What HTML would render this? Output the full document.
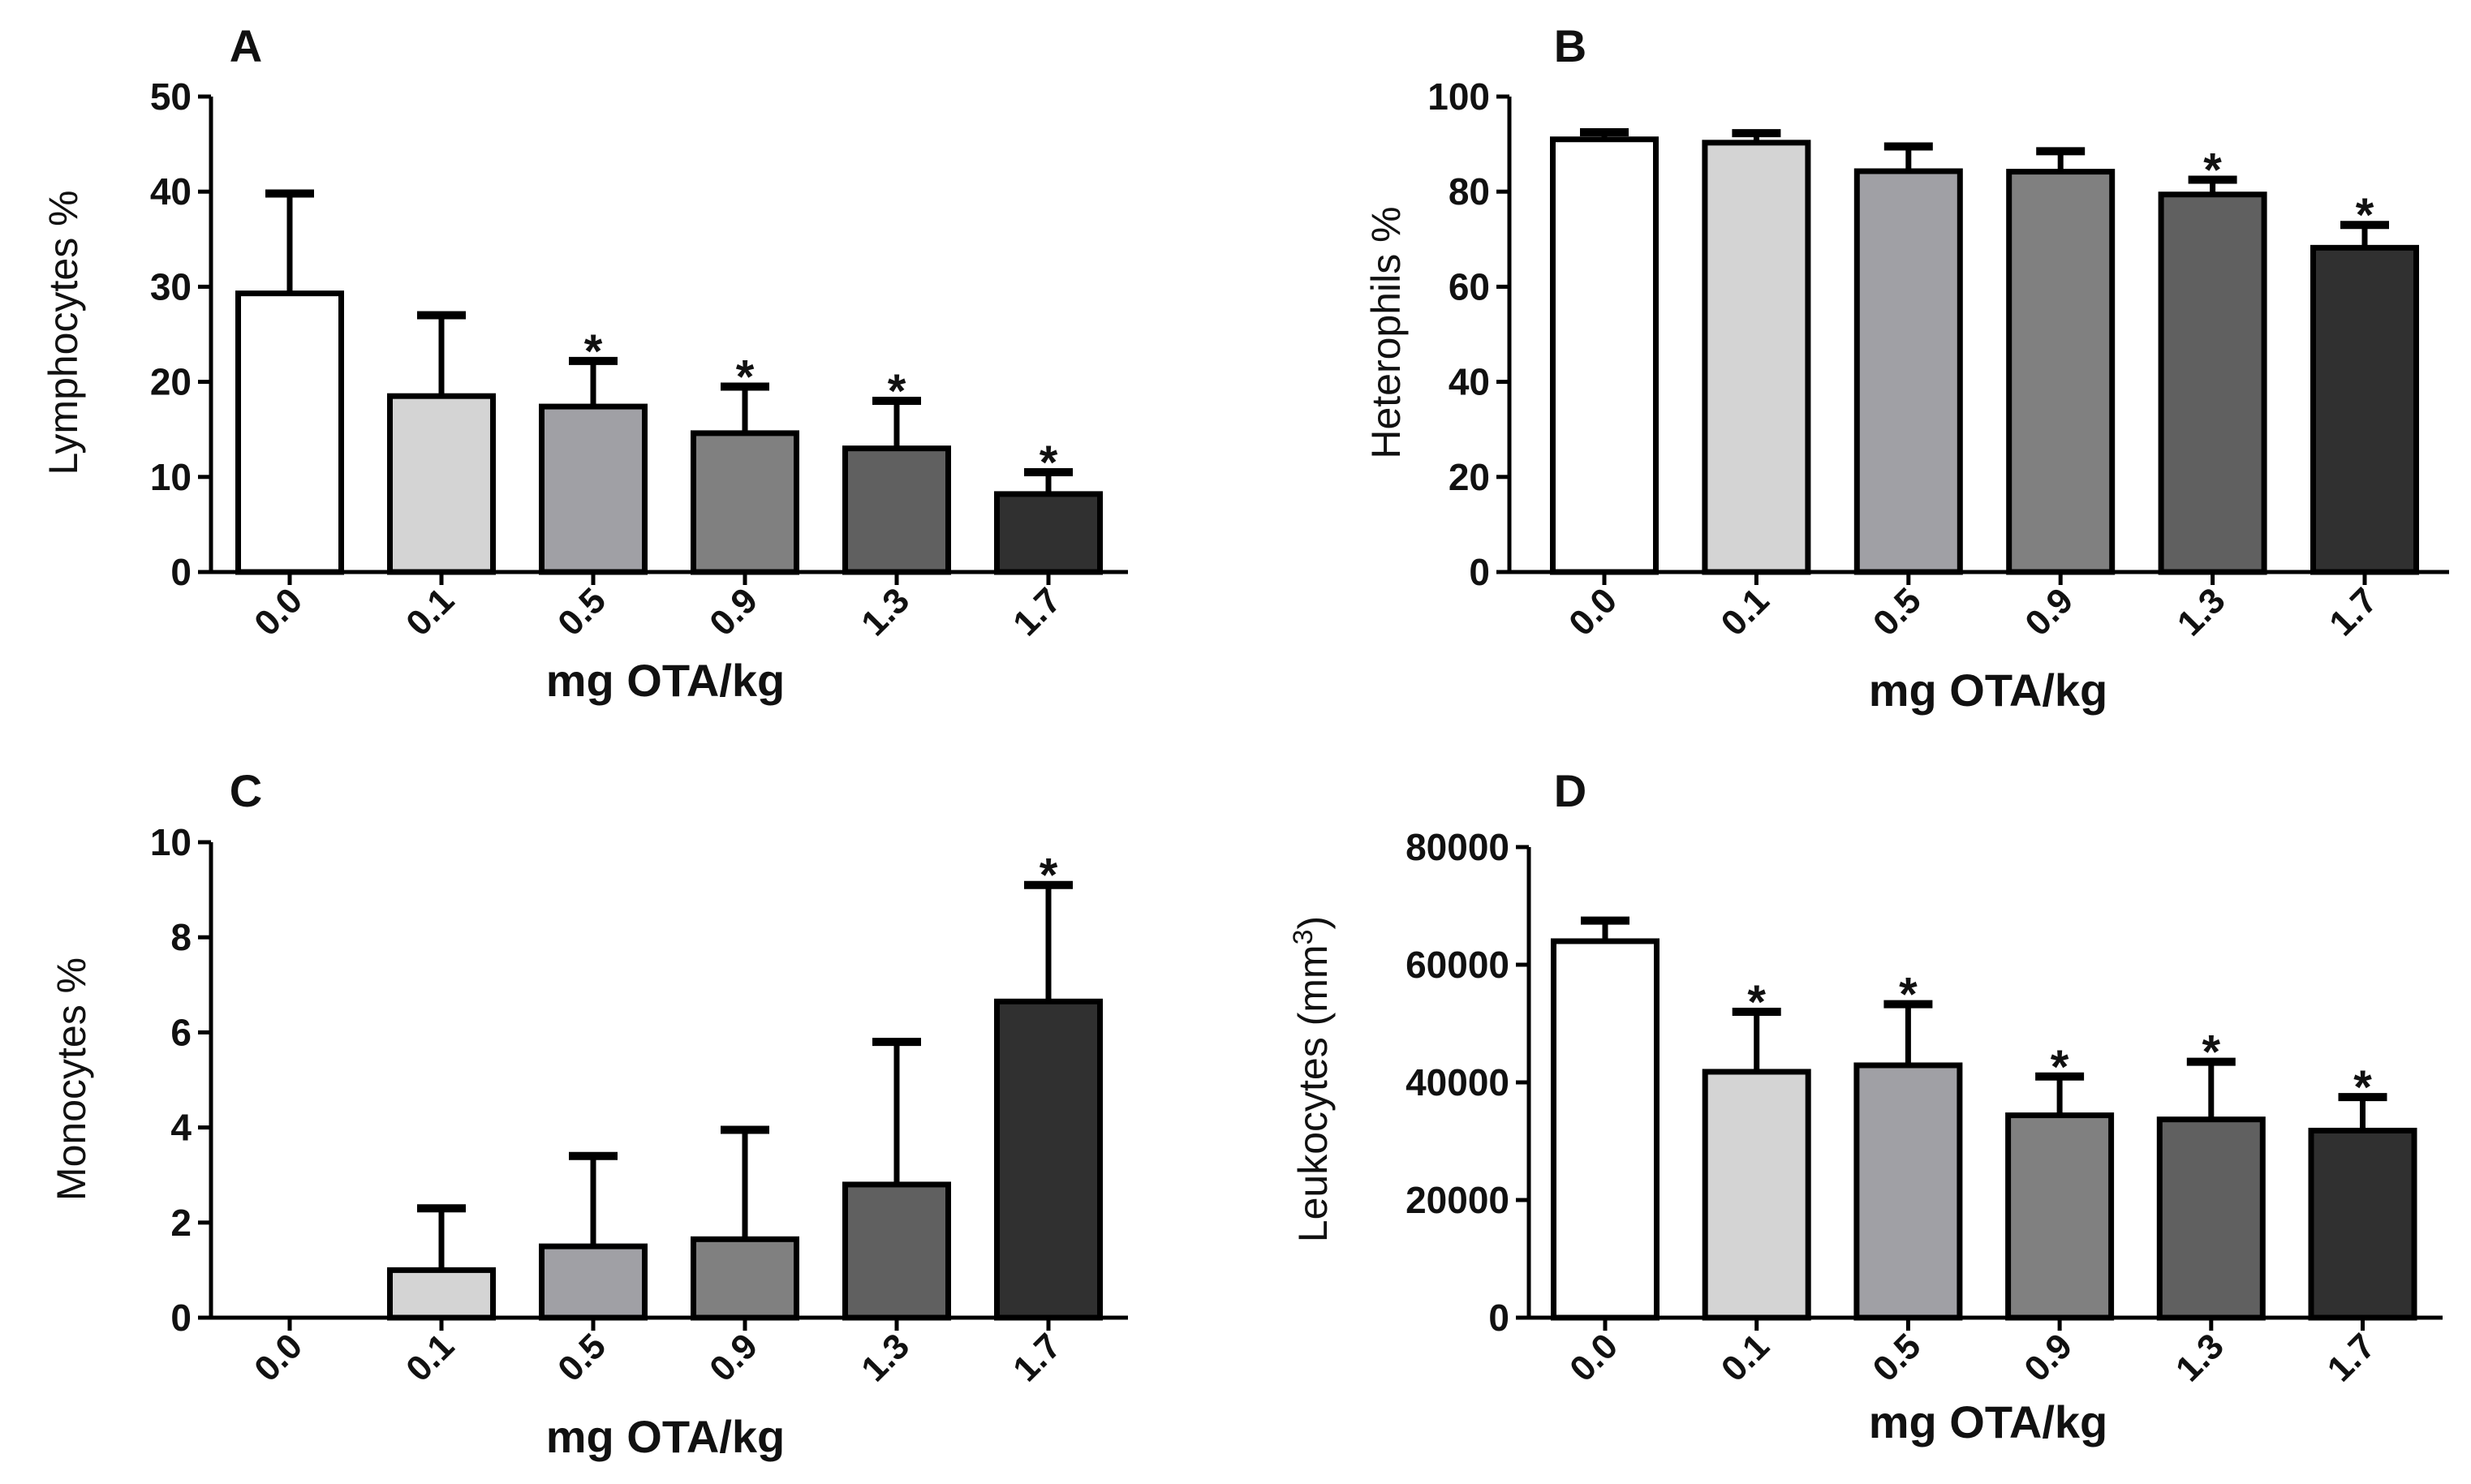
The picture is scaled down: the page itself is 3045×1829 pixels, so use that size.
<!DOCTYPE html>
<html><head><meta charset="utf-8"><style>
html,body{margin:0;padding:0;background:#fff;}
svg{display:block;font-family:"Liberation Sans",Arial,sans-serif;font-weight:bold;}
</style></head><body>
<svg id="fig" width="3045" height="1829" viewBox="0 0 3045 1829" xmlns="http://www.w3.org/2000/svg"></svg>
<script>
const categories = ["0.0","0.1","0.5","0.9","1.3","1.7"];
const lymphMean = [29.3,18.5,17.4,14.6,13.0,8.2];
const lymphErr  = [39.8,27.0,22.2,19.5,18.0,10.5];
const lymphSig  = [0,0,1,1,1,1];
const lymphTicks = [0,10,20,30,40,50];
const hetMean = [91.0,90.3,84.3,84.2,79.4,68.2];
const hetErr  = [92.5,92.3,89.5,88.5,82.5,73.0];
const hetSig  = [0,0,0,0,1,1];
const hetTicks = [0,20,40,60,80,100];
const monoMean = [0,1.0,1.5,1.65,2.8,6.65];
const monoErr  = [0,2.3,3.4,3.95,5.8,9.1];
const monoSig  = [0,0,0,0,0,1];
const monoTicks = [0,2,4,6,8,10];
const leukMean = [64000,41800,42900,34400,33700,31800];
const leukErr  = [67500,52000,53300,41000,43500,37500];
const leukSig  = [0,1,1,1,1,1];
const leukTicks = [0,20000,40000,60000,80000];
const fills = ["#ffffff","#d4d4d4","#a0a0a5","#808080","#606060","#303030"];

const svg = document.getElementById('fig');
const NS = "http://www.w3.org/2000/svg";
function mk(tag, attrs, parent){
  const e = document.createElementNS(NS, tag);
  for (const k in attrs) e.setAttribute(k, attrs[k]);
  (parent||svg).appendChild(e);
  return e;
}
function panel(cfg){
  const g = mk('g', {});
  
  
  const max = cfg.ticks[cfg.ticks.length-1];
  const y = v => cfg.y0 - (v/max)*(cfg.y0-cfg.yTop);
  const x0 = cfg.ax, x1 = cfg.axEnd;
  const xc = i => cfg.first + cfg.step*i;
  const bw = 127;
  const L = mk('text', {x:cfg.lx, y:cfg.ly, 'font-size':56, 'text-anchor':'middle', fill:'#111'}, g);
  L.textContent = cfg.letter;
  
  
  categories.forEach((c,i)=>{
    const top = y(cfg.mean[i]);
    if (cfg.err[i] > cfg.mean[i]) {
      const eb = mk('g', {stroke:'#000','stroke-width':7}, g);
      
      
      mk('line', {x1:xc(i), x2:xc(i), y1:top, y2:y(cfg.err[i])}, eb);
      mk('line', {x1:xc(i)-30, x2:xc(i)+30, y1:y(cfg.err[i]), y2:y(cfg.err[i]), 'stroke-width':10}, eb);
    }
    if (cfg.mean[i] > 0) {
      const r = mk('rect', {x:xc(i)-bw/2, y:top, width:bw, height:cfg.y0-top, fill:fills[i], stroke:'#000','stroke-width':7}, g);
      
      
    }
    if (cfg.sig[i]) {
      const s = mk('text', {x:xc(i), y:y(cfg.err[i])+8, 'font-size':58, 'text-anchor':'middle', fill:'#111'}, g);
      s.textContent = '*';
      
      
    }
    const t = mk('line', {x1:xc(i), x2:xc(i), y1:cfg.y0, y2:cfg.y0+16, stroke:'#000','stroke-width':5}, g);
    
    
    const tx = xc(i)+18, ty = cfg.y0+38;
    const lab = mk('text', {x:tx, y:ty, 'font-size':44, 'text-anchor':'end', fill:'#111', transform:`rotate(-45 ${tx} ${ty})`}, g);
    lab.textContent = c;
    
    
  });
  const ya = mk('line', {x1:x0, x2:x0, y1:cfg.yTop, y2:cfg.y0, stroke:'#000','stroke-width':5}, g);
  
  
  const xa = mk('line', {x1:x0-16, x2:x1, y1:cfg.y0, y2:cfg.y0, stroke:'#000','stroke-width':5}, g);
  
  
  cfg.ticks.forEach(v=>{
    const tk = mk('line', {x1:x0-16, x2:x0, y1:y(v), y2:y(v), stroke:'#000','stroke-width':5}, g);
    
    
    const tl = mk('text', {x:x0-24, y:y(v)+16, 'font-size':46, 'text-anchor':'end', fill:'#111'}, g);
    tl.textContent = v;
    
    
  });
  const yt = mk('text', {x:cfg.ytx, y:cfg.yty, 'font-size':50, 'text-anchor':'middle', fill:'#111', 'font-weight':'normal', transform:`rotate(-90 ${cfg.ytx} ${cfg.yty})`}, g);
  yt.innerHTML = cfg.ytitle;
  
  
  const xt = mk('text', {x:cfg.xtx, y:cfg.xty, 'font-size':56, 'text-anchor':'middle', fill:'#111'}, g);
  xt.textContent = 'mg OTA/kg';
  
  
}
panel({name:'panel-a-lymphocytes', letter:'A', lx:303, ly:76, ax:260, axEnd:1390, first:357, step:187, y0:705, yTop:119,
  ticks:lymphTicks, mean:lymphMean, err:lymphErr, sig:lymphSig, ytitle:'Lymphocytes %', ytx:95, yty:410, xtx:820, xty:858});
panel({name:'panel-b-heterophils', letter:'B', lx:1935, ly:76, ax:1860, axEnd:3018, first:1977, step:187.4, y0:705, yTop:119,
  ticks:hetTicks, mean:hetMean, err:hetErr, sig:hetSig, ytitle:'Heterophils %', ytx:1725, yty:410, xtx:2450, xty:870});
panel({name:'panel-c-monocytes', letter:'C', lx:303, ly:994, ax:260, axEnd:1390, first:357, step:187, y0:1624, yTop:1038,
  ticks:monoTicks, mean:monoMean, err:monoErr, sig:monoSig, ytitle:'Monocytes %', ytx:105, yty:1330, xtx:820, xty:1790});
panel({name:'panel-d-leukocytes', letter:'D', lx:1935, ly:994, ax:1884, axEnd:3010, first:1978, step:186.7, y0:1624, yTop:1044,
  ticks:leukTicks, mean:leukMean, err:leukErr, sig:leukSig, ytitle:'Leukocytes (mm<tspan dy="-18" font-size="34">3</tspan><tspan dy="18">)</tspan>', ytx:1635, yty:1330, xtx:2450, xty:1772});
</script>
</body></html>
